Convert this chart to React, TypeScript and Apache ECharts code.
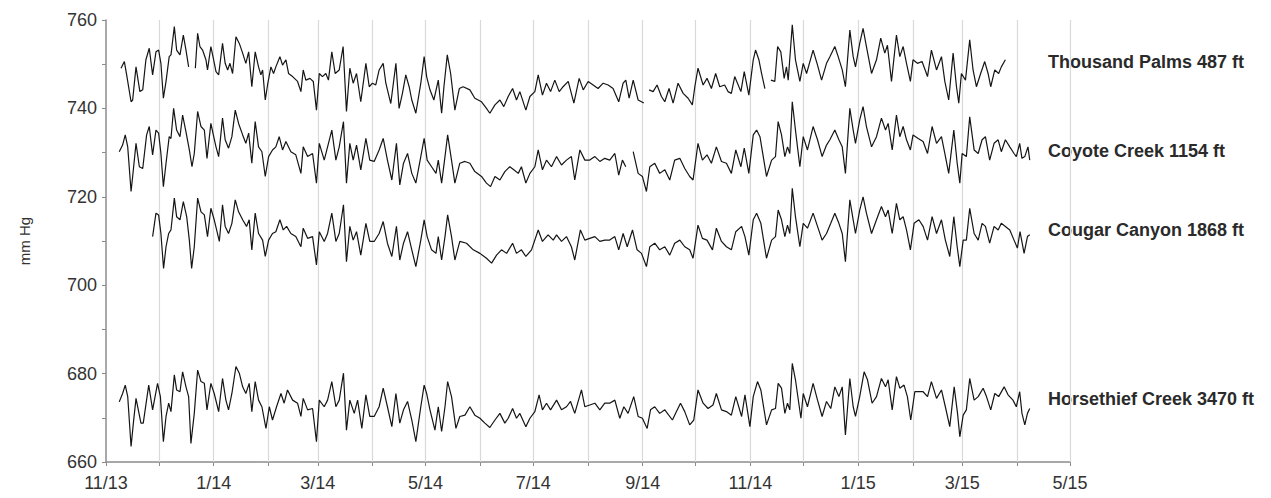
import { useEffect, useRef } from 'react';
import * as echarts from 'echarts';

// x values are days since 1 Nov 2013
const START = Date.UTC(2013, 10, 1);
const END = Date.UTC(2015, 4, 1);
const DAY = 86400000;

const tickLabels = ['11/13', '1/14', '3/14', '5/14', '7/14', '9/14', '11/14', '1/15', '3/15', '5/15'];
const stationNames = ['Thousand Palms 487 ft', 'Coyote Creek 1154 ft', 'Cougar Canyon 1868 ft', 'Horsethief Creek 3470 ft'];

type Pt = [number, number | null];

const thousandPalms: Pt[] = [
  [8.5,749.1],[10.4,750.6],[11.7,747.6],[14.2,741.5],[15.1,741.9],[17,749.4],[19.2,743.8],[20.8,744.2],[22.6,751],[24.5,753.6],[26.4,747.6],[28.3,752.8],[29.8,753.2],[31.1,750.2],[32.5,742.3],[34,746.1],[35.8,751.7],[36.8,752.1],[38.7,758.5],[40,753.2],[41.9,752.1],[43.8,756.6],[45.3,753.2],[46.8,749.4],[48.5,null],
  [50.6,749.1],[51.9,757],[53.2,754],[54.7,753.2],[56.6,751],[57.5,748.7],[59.4,754],[60.8,751.3],[62.3,748.3],[63.8,747.6],[66,754.7],[67.5,750.2],[68.9,748.7],[70.2,750.2],[71.7,747.9],[73.6,756.2],[75.5,754.7],[77.4,752.5],[79.2,750.2],[80.8,752.8],[82.6,744.9],[84.5,752.8],[86.4,749.4],[87.7,747.6],[88.7,748.7],[90.2,741.9],[91.5,745.3],[93.4,749.4],[94.9,747.9],[96.2,749.4],[98.5,751.7],[100,749.8],[101.9,751],[103.4,747.9],[105.7,747.2],[108.5,746.1],[110.4,743.8],[111.7,748.7],[113.2,746.4],[115.5,746.8],[117.4,746.1],[119.2,739.6],[120.8,747.9],[122.6,747.2],[124.5,747.9],[126,746.4],[127.9,752.8],[129.8,747.9],[132.1,748.7],[134.3,754],[136.2,739.3],[138.1,749.1],[140,745.7],[141.9,747.9],[144.3,741.5],[147.2,750.2],[149.1,744.9],[150.9,745.7],[152.8,745.3],[154.7,748.7],[157,750.2],[158.5,745.7],[161.3,741.1],[164.2,750.2],[166,740],[167.9,743.4],[169.8,747.6],[171.7,744.9],[173.2,741.9],[175.5,738.9],[178.3,745.7],[180.2,751.7],
  [181.6,747.2],[183.5,744.2],[185.7,741.9],[188.2,746.4],[190.1,738.9],[191.4,744.9],[193.3,752.1],[195.2,747.9],[197.6,739.6],[200.1,744.5],[202.3,744.9],[206.1,744.2],[208.9,742.3],[212.7,741.5],[215.5,740],[217.4,738.9],[220.3,740.8],[223.1,741.9],[225.3,740.4],[227.8,742.7],[230.3,744.5],[232.5,741.9],[234.4,743.8],[237.8,739.6],[240.1,742.7],[242.9,743.8],[244.8,747.6],[247.2,743],[249.5,745.7],[251.8,743.8],[254.2,746.4],[256.7,743.8],[258.9,744.9],[261.8,746.1],[265,741.2],[268,746.8],[270.3,744.2],[273.1,746.1],[275.9,745.3],[278.7,744.5],[281.6,745.7],[284.4,745.3],[287.2,744.5],[290.4,741.5],[292.9,745.7],[294.4,746.4],[296.3,742.3],[298.6,746.4],[301.4,741.9],[304.6,741.2],[306,null],
  [307.6,744.2],[309.9,743.8],[312.1,745.3],[314.6,742.7],[316.5,741.5],[318.9,744.5],[321.2,741.2],[324,745.7],[326.9,743.4],[329.7,742.3],[332.1,740.8],[333.5,744.9],[335.3,749.1],[338.2,745.3],[340.4,746.8],[342.9,744.5],[345.3,747.9],[347.6,744.9],[350.4,745.3],[352.3,743.8],[354.2,743.4],[356.1,747.2],
  [359.6,743.8],[361.5,748.3],[364.1,743],[366.6,751],[367.9,753.2],[369.8,751],[371.3,747.9],[373.2,744.5],[375,null],
  [376.6,746.4],[378.8,746.1],[380.4,754],[382.2,752.8],[384.1,746.8],[385.4,749.4],[386.4,746.4],[388.7,758.9],[390.5,751],[393,746.1],[394.9,750.2],[396.8,747.9],[400.5,753.2],[403,749.8],[405.3,746.4],[408.1,750.2],[410,751.7],[412.8,754],[414.7,751.7],[417,748.7],[418.8,744.9],[421.3,757.7],[423.2,751.7],[424.5,749.4],[426.9,754.7],[428.8,758.1],[430.7,754],[433.6,747.9],[436.4,751],[438.8,755.9],[441.1,752.5],[442.6,754.3],[444.9,746.1],[447.7,756.6],[449.6,751.7],[451.5,754],[453.4,750.2],[455.6,746.1],[457.1,751],[459.6,750.2],[462.2,750.6],[465.3,747.2],[467.5,753.2],[470.4,748.7],[473.2,751.7],[475.1,746.1],[477.3,741.9],[479.8,752.5],[481.7,744.9],[483,741.2],[484.5,747.9],[486.8,746.4],[489.2,755.5],[491.1,748.7],[493,744.9],[495.4,747.9],[497.7,750.6],[499.6,747.9],[501.1,744.9],[503.4,748.7],[505.6,747.9],[507.1,749.4],[509.4,751]
];

const coyoteCreek: Pt[] = [
  [7.5,730.2],[9.4,731.7],[10.9,734],[12.3,731.3],[14.2,721.2],[15.1,724.6],[17,732.1],[18.9,726.8],[20.8,726.4],[23,734],[24.5,735.9],[26.4,729.5],[28.3,735.1],[29.8,734.4],[31.1,729.8],[32.5,722.3],[34,727.6],[35.8,733.6],[36.8,733.2],[38.3,740],[40,735.1],[41.9,733.6],[43.4,738.5],[45.3,734.7],[47.2,730.6],[48.7,726.8],[50,729.8],[51.9,739.3],[53.8,735.9],[55.7,735.1],[57.2,728.7],[59.4,736.6],[60.8,734],[62.3,731.3],[63.8,729.1],[66,737.8],[67.5,732.9],[69.4,731],[71.3,733.6],[73.2,739.6],[75.1,736.6],[77.4,734],[79.2,732.1],[80.8,734.4],[82.6,727.6],[84.5,737],[86.4,731.3],[88.3,730.2],[90.2,724.6],[92.1,729.1],[94.3,730.6],[96.2,731.3],[98.1,733.6],[100,730.6],[101.9,732.5],[104.7,730.2],[107.5,729.5],[110.4,725.3],[111.7,731.3],[114.2,729.1],[117,729.8],[119.2,723.1],[120.8,732.1],[123.6,728.3],[125.5,731.3],[127.9,735.1],[130.2,728.3],[132.1,731.3],[134.5,737],[136.2,723.1],[138.1,732.1],[140,728.3],[141.9,731.7],[144.3,726.1],[147.2,733.2],[149.4,728.3],[151.9,728],[154.7,730.6],[157,733.2],[159.4,728.3],[161.9,723.8],[164.5,732.1],[166.4,722.7],[168.5,727.6],[170.8,729.8],[173.2,725.3],[175.5,723.1],[178.3,729.1],[180.2,733.2],
  [181.9,728.3],[184.4,726.8],[186.9,725.3],[188.2,728.3],[190.1,723.1],[192,729.1],[193.5,734],[195.7,728.3],[197.6,723.1],[200.4,727.6],[203.3,728],[206.1,727.6],[208.9,725.7],[212.7,724.6],[215.5,723.1],[217.8,722.3],[220.3,724.6],[223.1,723.8],[225.9,725.7],[228.7,726.8],[231,726.1],[233.5,725.3],[235.3,726.8],[237.8,723.1],[240.1,725.3],[242.9,726.8],[244.8,730.6],[247.2,726.1],[249.5,728.3],[252.3,726.8],[255.2,729.1],[258,727.2],[260.8,728.3],[263.6,729.1],[265.5,723.8],[268.4,730.6],[271.2,728.3],[274,728.3],[276.9,729.1],[279.7,728],[282.5,728.7],[285.3,728.3],[288.2,729.8],[290.4,724.9],[292.5,728.3],[294.4,726.8],[296.5,null],
  [298.6,730.2],[301.4,725.3],[303.8,724.6],[306.1,721.2],[308,726.8],[310.8,727.6],[313.6,725.3],[316.5,726.1],[319.3,723.8],[322.1,728.3],[325,728.7],[327.8,726.4],[330.6,724.6],[332.5,723.8],[335.3,732.1],[337.8,728.3],[340.4,729.5],[342.9,727.6],[345.7,731.3],[348.6,728],[351.4,727.6],[354.2,725.3],[356.7,730.6],
  [359.6,726.8],[361.5,731],[364.1,725.3],[366.6,734],[368.5,735.1],[370.4,733.6],[374.1,724.6],[377,728.3],[379.2,729.1],[380.7,737],[382.6,734],[384.5,729.1],[386,731.3],[387.3,729.8],[388.7,741.5],[390.5,735.1],[393,726.8],[394.9,733.6],[397.3,730.6],[400.5,735.9],[403,732.9],[405.6,729.1],[408.1,731.7],[410,732.9],[412.8,735.1],[415.1,732.9],[417,731.3],[418.8,725.3],[421.3,740],[423.2,735.1],[424.5,732.1],[426.9,737.4],[428.8,740.4],[430.7,735.9],[433.6,731.3],[436.4,733.6],[439.2,737.8],[441.5,735.1],[443,736.6],[445.3,730.6],[447.7,738.5],[449.6,733.6],[451.5,735.9],[453.4,732.9],[455.6,730.6],[457.1,734],[460,733.2],[462.8,732.5],[465.3,729.8],[467.9,735.9],[470.4,732.1],[473.2,733.6],[475.1,729.8],[477.3,725.3],[480.2,735.1],[482.1,727.6],[483.6,723.1],[484.9,729.8],[487.3,729.1],[489.2,738.1],[491.7,730.6],[494,729.8],[496.2,732.9],[498.1,733.6],[500.5,728.3],[503,732.1],[505.3,732.9],[507.1,730.2],[509.4,732.9],[511.9,731.3],[514.3,729.8],[515.6,729.1],[517.5,732.1],[518.8,728.7],[520.4,729.1],[522.2,731.3],[523.2,728.3]
];

const cougarCanyon: Pt[] = [
  [26.4,711],[28.3,716.3],[29.8,715.9],[31.1,711.7],[32.6,703.8],[34,708.7],[35.5,711.7],[36.8,712.5],[38.7,719.7],[40,715.5],[41.9,714.8],[43.8,718.9],[45.7,715.5],[47.2,710.2],[48.5,703.8],[50,708.7],[51.9,719.7],[53.8,716.6],[55.7,715.9],[57.5,711],[59.4,717.4],[61.3,714.8],[64.2,709.9],[66,718.2],[67.5,713.3],[69.4,711.7],[71.3,714],[73.2,719.3],[75.1,716.6],[77.4,714.8],[79.6,713.3],[81.1,714.8],[82.6,708],[84.5,716.3],[86.4,711.7],[88.7,710.2],[90.2,706.5],[92.1,710.2],[94.3,711.7],[96.2,712.1],[98.5,714.8],[100.4,712.5],[102.3,713.3],[104.7,711.7],[107.5,711],[110.4,708.7],[111.7,712.9],[114.2,710.6],[117,711],[119.2,704.6],[120.8,712.1],[123.6,709.9],[125.5,711.7],[127.9,716.3],[130.2,709.9],[132.1,711.7],[134.5,718.2],[136.2,705.3],[138.1,713.3],[140,710.2],[141.9,712.1],[144.3,706.8],[147.2,714],[149.4,709.9],[151.9,709.9],[154.7,711.7],[157,714.4],[159.4,709.5],[161.9,706.5],[164.5,713.3],[166.4,705.7],[168.5,709.5],[170.8,712.1],[173.2,708],[175.5,704.2],[178.3,710.2],[180.2,714.8],
  [181.9,711],[184.4,708],[186.9,707.2],[188.2,711],[190.1,705.7],[192,711],[193.5,715.9],[195.7,711],[197.6,705.7],[200.4,709.9],[204.2,709.5],[208,708],[211.8,707.2],[215.5,706.1],[218.4,705],[221.2,706.8],[224,708],[226.9,707.2],[230.3,709.5],[232.5,707.2],[235.3,708],[237.8,706.5],[241,708],[244.8,712.5],[247.2,709.9],[250.4,711.4],[253.3,710.2],[255.2,711.4],[258,709.9],[260.8,711],[263.6,708.7],[265.5,705.7],[268.7,712.5],[271.2,710.2],[274,710.6],[276.9,711],[279.7,709.9],[282.5,710.2],[285.3,710.2],[288.2,711],[290.4,708],[292.9,711.7],[295.2,708.7],[298.2,712.5],[300.8,708],[303.3,707.2],[306.1,704.2],[308,708.7],[310.8,709.5],[313.6,708],[316.5,708.7],[319.3,706.8],[322.1,709.5],[325,710.2],[327.8,708.7],[330.6,708],[332.5,706.1],[335.3,713.6],[337.8,710.6],[340.4,710.2],[343.5,708],[345.7,712.9],[348.6,709.9],[351.4,708.7],[354.2,708],[356.7,712.1],
  [360,713.3],[361.9,711],[364.1,706.8],[366.6,714.8],[368.5,716.3],[370.9,714],[374.1,706.1],[377,710.2],[379.2,711],[380.7,717],[382.6,714.8],[384.5,711],[386,713.6],[387.3,711.7],[388.7,721.9],[390.5,715.5],[393,708.7],[394.9,714],[397.3,712.9],[400.5,716.3],[403,713.3],[405.6,710.2],[408.1,711.7],[410.5,714],[412.8,716.3],[415.1,714],[417,711.7],[418.8,705.3],[421.3,719.3],[423.2,714.8],[424.5,711.7],[426.9,717],[428.8,720],[430.7,716.3],[433.6,711.7],[436.4,714.8],[439.2,717.8],[441.5,715.5],[443,717],[445.3,711.7],[447.7,718.5],[449.6,714.8],[451.5,715.5],[453.4,712.5],[455.6,708],[457.7,714],[460.4,714.8],[462.8,713.3],[465.3,710.2],[467.9,715.5],[470.4,711.7],[473.2,714.8],[475.4,710.2],[477.9,706.5],[480.2,715.5],[482.1,708.7],[483.6,704.2],[485.5,710.2],[487.3,710.2],[489.2,717.4],[491.7,711.7],[494,710.2],[496.2,714],[498.1,713.3],[500.5,709.5],[503,713.3],[505.3,712.5],[507.1,714],[509.4,713.3],[511.9,712.5],[514.3,710.2],[516.2,708.4],[517.7,712.1],[520,707.2],[521.9,711],[523.2,711.4]
];

const horsethiefCreek: Pt[] = [
  [7.5,673.6],[9.4,675.5],[10.9,677.4],[12.3,674.8],[14.2,663.5],[15.5,668.8],[17,674.4],[19.8,668.8],[21.1,668.8],[24.2,677.4],[26.4,671.8],[29.2,677.8],[30.8,674.8],[32.5,664.6],[34,670.3],[35.5,673.3],[36.8,671.4],[38.7,679.7],[40,676.3],[41.9,675.9],[43.4,680.4],[45.3,677],[46.8,674.8],[48.1,664.2],[50,671],[51.9,680.8],[53.8,678.2],[55.7,677.8],[57.2,671.8],[59.4,677.8],[61.3,675.5],[63.8,671.4],[66,678.9],[67.9,674],[69.4,671.8],[71.3,675.5],[73.6,681.6],[75.5,680.1],[77.4,677],[79.2,675.5],[81.1,677.8],[82.6,671.4],[84.5,678.2],[86.4,674],[88.3,672.5],[90.6,667.6],[92.5,672.5],[94.3,669.5],[96.6,672.5],[99.1,675.5],[100.9,673.3],[102.8,676.3],[105.7,674],[108.5,673.3],[110.4,670.3],[111.7,674.4],[114.2,671.8],[117,672.1],[119.2,664.6],[120.8,674],[123.6,672.5],[125.5,674],[127.9,678.2],[130.2,672.5],[132.1,674],[134.5,680.1],[136.2,667.2],[138.1,674],[140.6,671],[142.5,674],[144.9,667.6],[147.2,675.2],[149.4,670.3],[151.9,670.3],[154.7,672.5],[157,676.7],[159.4,672.5],[161.9,668],[164.2,675.5],[166.4,668.8],[168.5,671.8],[170.8,673.7],[173.2,669.5],[175.5,664.6],[178.3,672.5],[180.2,677.4],
  [181.6,675.5],[183.5,671.8],[186.3,667.2],[188.2,672.5],[190.1,666.9],[192,672.5],[193.5,678.2],[195.7,674.8],[198.2,667.6],[200.4,670.3],[203.3,670.6],[206.1,672.5],[208.9,670.6],[211.8,669.9],[214.6,668.8],[217.4,667.8],[220.3,669.5],[223.1,671],[225.9,668.8],[227.8,669.9],[230.3,672.1],[232.5,669.9],[234.4,671],[237.8,668],[240.1,669.9],[242.9,671.4],[245.3,675.2],[247.2,671.8],[249.5,673.3],[251.8,671.8],[255.2,674],[258,671.8],[260.8,672.5],[263.1,673.7],[265.5,671],[269.3,676.3],[271.2,672.5],[274,672.9],[276.9,673.3],[279.7,671.8],[282.5,673.3],[285.3,673.3],[288.2,674],[291,669.9],[293.3,672.5],[295.7,671],[298.9,674.8],[301.4,670.3],[303.8,669.9],[306.5,667.6],[308.4,671.8],[310.8,672.5],[313.6,671],[316.5,671.8],[320.8,669.5],[323.1,671.4],[325.4,673.3],[327.8,671.4],[330.6,668.4],[332.9,669.5],[335.3,676.3],[338.2,673.3],[341,672.1],[343.8,672.9],[345.7,675.5],[348.6,671.8],[351.4,671.4],[354.2,670.6],[356.7,674.8],
  [360,670.3],[361.9,675.2],[364.7,668],[366.6,674.8],[369,678.2],[370.9,676.3],[374.1,668.4],[377,671.8],[379.2,672.1],[380.7,677.8],[382.6,676.7],[384.5,671],[386,673.3],[387.3,671.8],[388.7,682.3],[390.5,678.6],[393.6,669.9],[394.9,675.5],[397.3,672.5],[400.5,677.8],[403,674],[405.6,670.3],[408.1,673.7],[410.5,672.1],[412.8,677],[415.1,674.8],[417,677],[418.8,666.1],[421.3,678.9],[423.2,672.5],[424.5,670.3],[426.9,674.8],[429.4,680.4],[431.3,678.6],[433.9,673.3],[436.4,674.8],[439.2,678.9],[441.5,677],[443,678.6],[445.3,671.8],[447.7,679.3],[449.6,676.7],[452,677.4],[453.9,674.8],[455.8,669.5],[458.1,675.9],[460.4,675.9],[462.8,675.9],[465.3,674.8],[467.5,678.2],[470.4,674.4],[473.2,676.3],[475.4,672.5],[477.9,668],[480.4,677],[482.3,671],[483.6,665.7],[485.5,670.6],[487.3,671.8],[489.2,678.9],[491.7,674],[494,674.8],[496.8,676.7],[498.7,674.8],[501.1,671.8],[503.4,675.5],[505.6,674.8],[508.7,677],[510.9,675.2],[513.7,674],[515.6,672.5],[517.5,675.9],[518.8,671],[520.4,668.4],[521.9,671],[523.2,672.1]
];

const allSeries: Pt[][] = [thousandPalms, coyoteCreek, cougarCanyon, horsethiefCreek];
const labelY = [64, 153, 232, 401];

function monthDays(): number[] {
  const out: number[] = [];
  for (let y = 2013, m = 10; ; ) {
    const t = Date.UTC(y, m, 1);
    if (t > END) break;
    out.push((t - START) / DAY);
    m++;
    if (m > 11) { m = 0; y++; }
  }
  return out;
}

function labelDay(lbl: string): number {
  const [m, yy] = lbl.split('/').map(Number);
  return (Date.UTC(2000 + yy, m - 1, 1) - START) / DAY;
}

export default function App() {
  const ref = useRef<HTMLDivElement>(null);
  useEffect(() => {
    if (!ref.current) return;
    const chart = echarts.init(ref.current, undefined, { renderer: 'svg' });
    const months = monthDays();
    const labelDays = tickLabels.map(labelDay);
    const font = "Arial, 'Liberation Sans', Helvetica, sans-serif";
    chart.setOption({
      animation: false,
      backgroundColor: '#ffffff',
      textStyle: { fontFamily: font },
      grid: { left: 106, right: 201, top: 20, bottom: 36, containLabel: false },
      xAxis: {
        type: 'value',
        min: 0,
        max: (END - START) / DAY,
        axisLine: { show: true, lineStyle: { color: '#8c8c8c', width: 1.5 } },
        axisTick: { show: true, customValues: months, length: 4, lineStyle: { color: '#8c8c8c' } },
        axisLabel: {
          customValues: labelDays,
          fontSize: 18,
          color: '#333',
          margin: 12,
          fontFamily: font,
          formatter: (v: number) => {
            const i = labelDays.findIndex((d) => Math.abs(d - v) < 0.5);
            return i >= 0 ? tickLabels[i] : '';
          },
        },
        splitLine: { show: false },
      },
      yAxis: {
        type: 'value',
        min: 660,
        max: 760,
        interval: 20,
        name: 'mm Hg',
        nameLocation: 'middle',
        nameGap: 74,
        nameTextStyle: { fontSize: 15, color: '#333', fontFamily: font },
        axisLine: { show: true, lineStyle: { color: '#8c8c8c', width: 1.5 } },
        axisTick: { show: true, length: 4, lineStyle: { color: '#8c8c8c' } },
        minorTick: { show: true, splitNumber: 2, length: 4, lineStyle: { color: '#8c8c8c' } },
        axisLabel: { fontSize: 18, color: '#333', margin: 9, fontFamily: font },
        splitLine: { show: false },
      },
      series: allSeries.map((data, i) => ({
        name: stationNames[i],
        type: 'line',
        data,
        showSymbol: false,
        symbol: 'none',
        connectNulls: false,
        lineStyle: { color: '#151515', width: 1.2 },
        z: 3,
        markLine: i === 0
          ? {
              silent: true,
              symbol: 'none',
              label: { show: false },
              lineStyle: { color: '#d9d9d9', width: 1.2, type: 'solid' },
              data: months.slice(1).map((d) => ({ xAxis: d })),
              z: 1,
            }
          : undefined,
      })),
      graphic: stationNames.map((name, i) => ({
        type: 'text',
        left: 1048,
        top: labelY[i] - 11,
        style: { text: name, fontSize: 18, fontWeight: 'bold', fill: '#2a2a2a', fontFamily: font },
      })),
    });
    return () => chart.dispose();
  }, []);
  return <div ref={ref} style={{ position: 'fixed', left: 0, top: 0, width: 1271, height: 498 }} />;
}
